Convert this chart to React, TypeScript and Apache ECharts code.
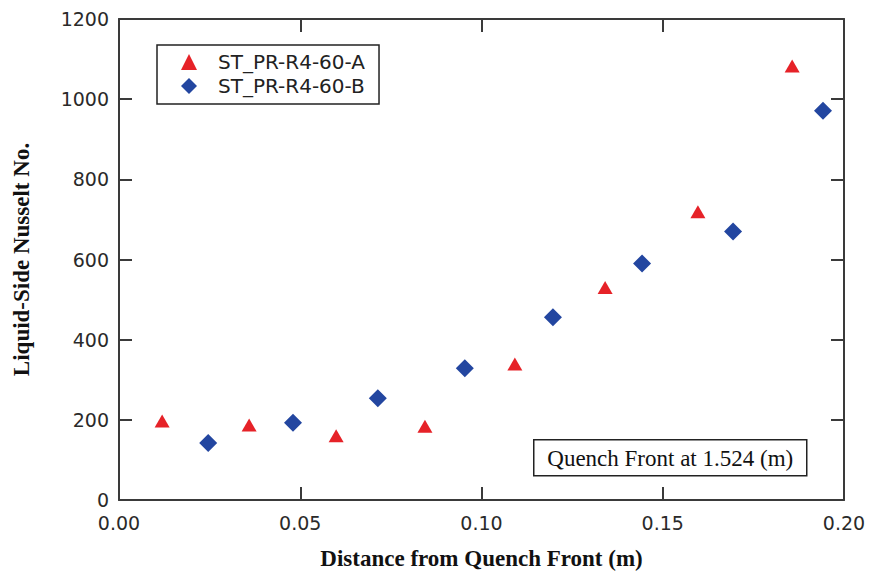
import React, { useEffect, useRef } from "react";
import * as echarts from "echarts";

const seriesNames = ["ST_PR-R4-60-A", "ST_PR-R4-60-B"];
const seriesAx = [0.0119, 0.0359, 0.0599, 0.0844, 0.1092, 0.1341, 0.1597, 0.1857];
const seriesAy = [197, 187, 160, 184, 339, 530, 719, 1083];
const seriesBx = [0.0246, 0.048, 0.0714, 0.0954, 0.1197, 0.1443, 0.1694, 0.1942];
const seriesBy = [142, 193, 254, 329, 456, 590, 670, 971];
const xTitle = "Distance from Quench Front (m)";
const yTitle = "Liquid-Side Nusselt No.";
const noteText = "Quench Front at 1.524 (m)";

const AXIS_COLOR = "#3a3a3a";
const LABEL_FONT = "DejaVu Sans";
const TITLE_FONT = "Liberation Serif";

function axisBase(show: boolean, margin: number) {
  return {
    axisLine: { show: true, onZero: false, lineStyle: { color: AXIS_COLOR, width: 2 } },
    axisTick: { show: true, inside: true, length: 13, lineStyle: { color: AXIS_COLOR, width: 2 } },
    splitLine: { show: false },
    axisLabel: {
      show,
      fontSize: 19,
      fontFamily: LABEL_FONT,
      color: "#2a2a2a",
      margin,
    },
  };
}

export default function App() {
  const ref = useRef<HTMLDivElement>(null);
  useEffect(() => {
    if (!ref.current) return;
    const chart = echarts.init(ref.current, null, { renderer: "svg" });
    const dataA = seriesAx.map((x, i) => [x, seriesAy[i]]);
    const dataB = seriesBx.map((x, i) => [x, seriesBy[i]]);
    const xb = axisBase(true, 13);
    const yb = axisBase(true, 10);
    chart.setOption({
      animation: false,
      backgroundColor: "#fff",
      grid: { left: 119, right: 25, top: 19, bottom: 72, containLabel: false, outerBoundsMode: "none" },
      xAxis: [
        {
          type: "value",
          position: "bottom",
          min: 0,
          max: 0.2,
          interval: 0.05,
          ...xb,
          axisLabel: { ...xb.axisLabel, formatter: (v: number) => v.toFixed(2) },
          name: xTitle,
          nameLocation: "middle",
          nameGap: 47,
          nameTextStyle: { fontFamily: TITLE_FONT, fontWeight: "bold", fontSize: 23, color: "#111" },
        },
        { type: "value", position: "top", min: 0, max: 0.2, interval: 0.05, ...axisBase(false, 8) },
      ],
      yAxis: [
        {
          type: "value",
          position: "left",
          min: 0,
          max: 1200,
          interval: 200,
          ...yb,
          axisLabel: { ...yb.axisLabel, formatter: (v: number) => String(v) },
          name: yTitle,
          nameLocation: "middle",
          nameGap: 86,
          nameRotate: 90,
          nameTextStyle: { fontFamily: TITLE_FONT, fontWeight: "bold", fontSize: 23, color: "#111" },
        },
        { type: "value", position: "right", min: 0, max: 1200, interval: 200, ...axisBase(false, 8) },
      ],
      legend: {
        orient: "vertical",
        left: 157,
        top: 45,
        data: seriesNames,
        borderColor: "#222",
        borderWidth: 1.5,
        borderRadius: 0,
        padding: [7, 14, 8, 24],
        itemWidth: 16,
        itemHeight: 16,
        itemGap: 4,
        backgroundColor: "#fff",
        textStyle: { fontSize: 20, fontFamily: LABEL_FONT, color: "#222", padding: [0, 0, 0, 16] },
      },
      graphic: [
        {
          type: "group",
          left: 533,
          top: 439,
          children: [
            {
              type: "rect",
              shape: { x: 0, y: 0, width: 273, height: 36 },
              style: { fill: "#fff", stroke: "#222", lineWidth: 1.5 },
            },
            {
              type: "text",
              x: 136.5,
              y: 19,
              style: {
                text: noteText,
                font: `23px '${TITLE_FONT}'`,
                fill: "#111",
                textAlign: "center",
                textVerticalAlign: "middle",
              },
            },
          ],
        },
      ],
      series: [
        {
          name: seriesNames[0],
          type: "scatter",
          symbol: "triangle",
          symbolSize: [15, 13],
          itemStyle: { color: "#e62228", opacity: 1 },
          data: dataA,
        },
        {
          name: seriesNames[1],
          type: "scatter",
          symbol: "diamond",
          symbolSize: 18,
          itemStyle: { color: "#2346a0", opacity: 1 },
          data: dataB,
        },
      ],
    });
    return () => chart.dispose();
  }, []);
  return <div ref={ref} style={{ width: 869, height: 572, position: "absolute", left: 0, top: 0 }} />;
}
